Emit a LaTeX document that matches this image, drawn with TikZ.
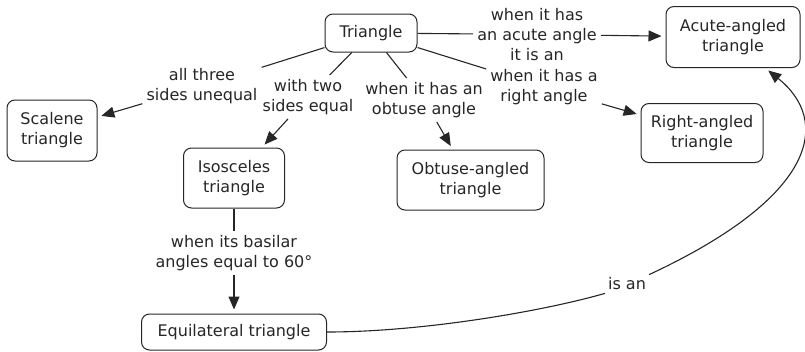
\documentclass[tikz,border=0pt]{standalone}
\usepackage{fontspec}
\setmainfont{DejaVu Sans}
\usetikzlibrary{arrows.meta}
\begin{document}
\begin{tikzpicture}[x=1pt,y=-1pt,
  every node/.style={font=\fontsize{16}{20}\selectfont, text=black!85, align=center},
  concept/.style={draw=black!85, line width=1pt, rounded corners=8pt, inner sep=0pt},
  lab/.style={inner sep=4pt},
  link/.style={draw=black!85, line width=1.1pt},
  arr/.style={link, -{Triangle[length=13pt,width=11pt]}, shorten >=4pt}]
\useasboundingbox (0,0) rectangle (805,351);
\node[concept, minimum width=92pt, minimum height=38pt] (tri) at (371,33) {Triangle};
\node[concept, minimum width=134pt, minimum height=61pt] (acute) at (733,37) {Acute-angled\\triangle};
\node[concept, minimum width=90pt, minimum height=61pt] (scal) at (52,130.5) {Scalene\\triangle};
\node[concept, minimum width=101pt, minimum height=60pt] (iso) at (234,178) {Isosceles\\triangle};
\node[concept, minimum width=147pt, minimum height=60pt] (obt) at (470.5,180) {Obtuse-angled\\triangle};
\node[concept, minimum width=122pt, minimum height=59pt] (right) at (702,133) {Right-angled\\triangle};
\node[concept, minimum width=185pt, minimum height=36pt] (eq) at (234,332) {Equilateral triangle};

\node[lab] (l1) at (202,86) {all three\\sides unequal};
\node[lab] (l2) at (308,97) {with two\\sides equal};
\node[lab] (l3) at (424,100) {when it has an\\obtuse angle};
\node[lab] (l4) at (537,34.5) {when it has\\an acute angle\\it is an};
\node[lab] (l5) at (544,87) {when it has a\\right angle};
\node[lab] (l6) at (234,253) {when its basilar\\angles equal to 60°};
\node[lab, inner sep=3pt] (l7) at (627,284) {is an};

\draw[link] (tri) -- (l1); \draw[arr] (l1) -- (scal);
\draw[link] (tri) -- (l2); \draw[arr] (l2) -- (iso);
\draw[link] (tri) -- (l3); \draw[arr] (l3) -- (obt);
\draw[link] (tri) -- (l4); \draw[arr] (l4) -- (acute);
\draw[link] (tri) -- (l5); \draw[arr] (l5) -- (right);
\draw[link] (iso) -- (l6); \draw[arr] (l6) -- (eq);
\draw[link] (eq.east) .. controls (420,332) and (540,312) .. (l7.south west);
\draw[arr] (l7.north east) .. controls (820,195) and (830,120) .. (acute.-44);
\end{tikzpicture}
\end{document}
